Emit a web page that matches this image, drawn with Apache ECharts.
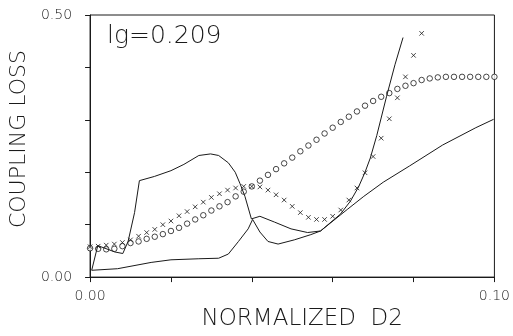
<!DOCTYPE html>
<html>
<head>
<meta charset="utf-8">
<script src="https://cdn.jsdelivr.net/npm/echarts@6/dist/echarts.min.js"></script>
<style>
  html, body { margin: 0; padding: 0; background: #fff; }
  #chart { width: 513px; height: 336px; }
</style>
</head>
<body>
<div id="chart"></div>
<script>
// ─── Data ───────────────────────────────────────────

// sample positions of the marker series (normalized D2)
const markX = [0, 0.002, 0.004, 0.006, 0.008, 0.010, 0.012, 0.014, 0.016, 0.018,
  0.020, 0.022, 0.024, 0.026, 0.028, 0.030, 0.032, 0.034, 0.036, 0.038,
  0.040, 0.042, 0.044, 0.046, 0.048, 0.050, 0.052, 0.054, 0.056, 0.058,
  0.060, 0.062, 0.064, 0.066, 0.068, 0.070, 0.072, 0.074, 0.076, 0.078,
  0.080, 0.082, 0.084, 0.086, 0.088, 0.090, 0.092, 0.094, 0.096, 0.098, 0.100];

// open circles
const circleY = [0.055, 0.054, 0.053, 0.054, 0.059, 0.065, 0.068, 0.073, 0.077, 0.082,
  0.088, 0.094, 0.102, 0.110, 0.118, 0.127, 0.135, 0.143, 0.154, 0.163,
  0.173, 0.184, 0.195, 0.206, 0.217, 0.228, 0.240, 0.251, 0.262, 0.274,
  0.285, 0.296, 0.306, 0.316, 0.327, 0.336, 0.344, 0.351, 0.359, 0.365,
  0.370, 0.376, 0.379, 0.381, 0.382, 0.382, 0.382, 0.382, 0.382, 0.382, 0.382];

// crosses (stop at 0.082)
const crossY = [0.058, 0.059, 0.061, 0.063, 0.066, 0.071, 0.078, 0.085, 0.091, 0.100,
  0.107, 0.117, 0.125, 0.134, 0.143, 0.152, 0.159, 0.166, 0.170, 0.173,
  0.173, 0.172, 0.166, 0.157, 0.147, 0.135, 0.123, 0.114, 0.110, 0.110,
  0.116, 0.128, 0.147, 0.170, 0.199, 0.230, 0.265, 0.302, 0.342, 0.382,
  0.423, 0.465];

// solid curve with the hump, ending in the steep rise
const humpLine = [[0.0004, 0.013], [0.0019, 0.060], [0.0037, 0.055], [0.0061, 0.048],
  [0.0081, 0.045], [0.0094, 0.068], [0.0110, 0.123], [0.0122, 0.184], [0.0159, 0.192],
  [0.0200, 0.203], [0.0232, 0.215], [0.0269, 0.232], [0.0298, 0.235], [0.0318, 0.232],
  [0.0342, 0.218], [0.0359, 0.200], [0.0371, 0.178], [0.0383, 0.154], [0.0399, 0.111],
  [0.0420, 0.116], [0.0456, 0.105], [0.0497, 0.092], [0.0538, 0.085], [0.0570, 0.088],
  [0.0619, 0.120], [0.0644, 0.145], [0.0664, 0.172], [0.0680, 0.200], [0.0693, 0.227],
  [0.0709, 0.270], [0.0733, 0.344], [0.0754, 0.405], [0.0774, 0.457]];

// lower solid curve
const lowLine = [[0.0004, 0.013], [0.0068, 0.016], [0.0151, 0.028], [0.0200, 0.033],
  [0.0269, 0.035], [0.0318, 0.036], [0.0342, 0.044], [0.0367, 0.068], [0.0391, 0.092],
  [0.0402, 0.110], [0.0420, 0.086], [0.0440, 0.068], [0.0465, 0.063], [0.0505, 0.071],
  [0.0546, 0.081], [0.0570, 0.088], [0.0636, 0.129], [0.0677, 0.154], [0.0725, 0.181],
  [0.0790, 0.212], [0.0872, 0.252], [0.0954, 0.285], [0.0998, 0.301]];

const xTicks = [0, 0.1];
const yTicks = [0, 0.5];

// ─── Chart ──────────────────────────────────────────

const FONT = "'DejaVu Sans', sans-serif";
const INK = '#1a1a1a';

function endLabel(ends) {
  return v => ends.some(e => Math.abs(v - e) < 1e-9) ? v.toFixed(2) : '';
}

const chart = echarts.init(document.getElementById('chart'), null, { renderer: 'canvas' });

chart.setOption({
  animation: false,
  backgroundColor: '#fff',
  grid: {
    left: 90, right: 14, top: 15, bottom: 49,
    show: true, borderColor: INK, borderWidth: 1, backgroundColor: 'transparent'
  },
  graphic: [{
    type: 'text',
    left: 107, top: 24,
    style: { text: 'lg=0.209', fill: INK, font: "200 25px 'DejaVu Sans', sans-serif" }
  }],
  xAxis: {
    type: 'value', min: 0, max: 0.1, interval: 0.02,
    name: 'NORMALIZED  D2', nameLocation: 'middle', nameGap: 25,
    nameTextStyle: { fontFamily: FONT, fontWeight: 200, fontSize: 23, color: INK, padding: [0, 0, 0, 20] },
    axisLine: { lineStyle: { color: INK, width: 1 } },
    axisTick: { length: 5, lineStyle: { color: INK } },
    axisLabel: { margin: 12, fontFamily: FONT, fontWeight: 200, fontSize: 14, color: INK, formatter: endLabel(xTicks) },
    splitLine: { show: false }
  },
  yAxis: {
    type: 'value', min: 0, max: 0.5, interval: 0.1,
    name: 'COUPLING LOSS', nameLocation: 'middle', nameGap: 52,
    nameTextStyle: { fontFamily: FONT, fontWeight: 200, fontSize: 22, color: INK, padding: [0, 0, 0, 14] },
    axisLine: { lineStyle: { color: INK, width: 1 } },
    axisTick: { length: 5, lineStyle: { color: INK } },
    axisLabel: { margin: 18, fontFamily: FONT, fontWeight: 200, fontSize: 14, color: INK, formatter: endLabel(yTicks) },
    splitLine: { show: false }
  },
  series: [
    {
      name: 'hump', type: 'line', data: humpLine, showSymbol: false, smooth: false,
      lineStyle: { color: INK, width: 1 }
    },
    {
      name: 'low', type: 'line', data: lowLine, showSymbol: false, smooth: false,
      lineStyle: { color: INK, width: 1 }
    },
    {
      name: 'circles', type: 'scatter', symbol: 'circle', symbolSize: 5.5,
      data: circleY.map((y, i) => [markX[i], y]),
      itemStyle: { color: '#fff', borderColor: INK, borderWidth: 1 }
    },
    {
      name: 'crosses', type: 'scatter', symbol: 'path://M0,0L10,10M10,0L0,10', symbolSize: 4.5,
      data: crossY.map((y, i) => [markX[i], y]),
      itemStyle: { color: 'none', borderColor: INK, borderWidth: 1 }
    }
  ]
});
</script>
</body>
</html>
